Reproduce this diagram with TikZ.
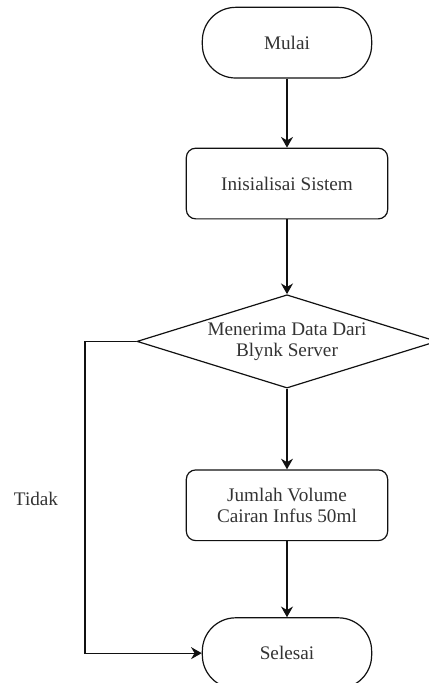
\documentclass[tikz,border=0pt]{standalone}
\usepackage{fontspec}
\setmainfont{Liberation Serif}
\usepackage{tikz}
\usetikzlibrary{arrows.meta,positioning,shapes.geometric}
\definecolor{LineInk}{HTML}{111111}
\definecolor{TextInk}{HTML}{333333}

\begin{document}
\begin{tikzpicture}[node distance=52pt, every node/.style={font=\fontsize{14.4}{15.5}\selectfont, text=TextInk},
  terminal/.style={draw=LineInk, line width=0.9pt, rounded corners=25pt, minimum width=127pt, minimum height=53pt},
  process/.style={draw=LineInk, line width=0.9pt, rounded corners=7pt, minimum width=151pt, minimum height=53pt, align=center},
  decision/.style={draw=LineInk, line width=0.9pt, diamond, aspect=3.2, inner sep=0pt, minimum width=225pt, minimum height=70pt, align=center},
  flow/.style={-{Stealth[length=8pt,width=9pt]}, line width=0.9pt, color=LineInk}]
\useasboundingbox (0,0) rectangle (321.75pt,-512.25pt);
\node[terminal] (start) at (215.25pt,-32pt) {Mulai};
\node[process, below=51.75pt of start] (init) {Inisialisai Sistem};
\node[decision, below=56pt of init] (recv) {Menerima Data Dari\\Blynk Server};
\node[process, below=60.5pt of recv] (vol) {Jumlah Volume\\Cairan Infus 50ml};
\node[terminal, below=57pt of vol] (stop) {Selesai};
\coordinate (lft) at (63.75pt,0);
\node (tidak) at (27pt,-374pt) {Tidak};
\draw[flow] (start)--(init);
\draw[flow] (init)--(recv);
\draw[flow] (recv)--(vol);
\draw[flow] (vol)--(stop);
\draw[flow] (recv.west) -- (recv.west -| lft) |- (stop.west);
\end{tikzpicture}
\end{document}
